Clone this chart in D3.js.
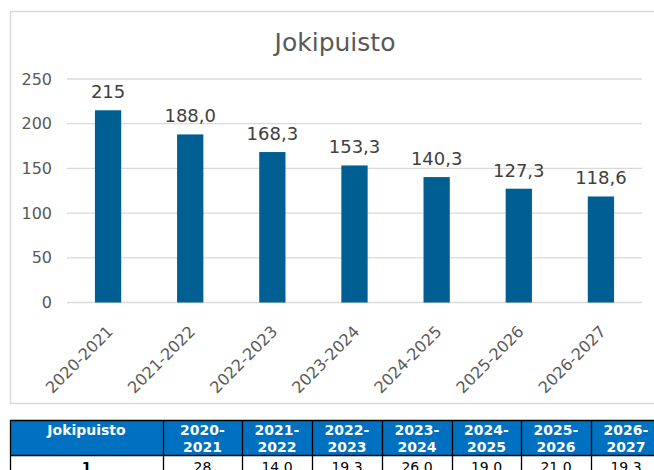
<!DOCTYPE html>
<html>
<head>
<meta charset="utf-8">
<script src="https://cdn.jsdelivr.net/npm/d3@7"></script>
<style>
  body { margin: 0; background: #fff; }
  svg { display: block; font-family: "DejaVu Sans", Verdana, sans-serif; }
</style>
</head>
<body>
<div class="chart"></div>
<script>
// chart data
var title = "Jokipuisto";
var years = ["2020-2021", "2021-2022", "2022-2023", "2023-2024", "2024-2025", "2025-2026", "2026-2027"];
var values = [215, 188.0, 168.3, 153.3, 140.3, 127.3, 118.6];
var valueLabels = ["215", "188,0", "168,3", "153,3", "140,3", "127,3", "118,6"];
var yTicks = [0, 50, 100, 150, 200, 250];

// table data
var tableHead = "Jokipuisto";
var rowName = "1";
var rowValues = ["28", "14.0", "19.3", "26.0", "19.0", "21.0", "19.3"];

var svgWidth = 654;
var svgHeight = 470;

var svg = d3.select(".chart")
  .append("svg")
  .attr("width", svgWidth)
  .attr("height", svgHeight);

// chart frame
svg.append("rect")
  .attr("x", 10.5)
  .attr("y", 11.5)
  .attr("width", 652)
  .attr("height", 392)
  .attr("fill", "none")
  .attr("stroke", "#d9d9d9")
  .attr("stroke-width", 1.5);

var plot = { left: 67, right: 642, top: 79, bottom: 302.5 };

var x = d3.scaleBand()
  .domain(years)
  .range([plot.left, plot.right])
  .paddingInner(0.68)
  .paddingOuter(0.34);

var y = d3.scaleLinear()
  .domain([0, 250])
  .range([plot.bottom, plot.top]);

// gridlines
svg.append("g")
  .selectAll("line")
  .data(yTicks)
  .enter()
  .append("line")
  .attr("x1", plot.left)
  .attr("x2", plot.right)
  .attr("y1", d => y(d))
  .attr("y2", d => y(d))
  .attr("stroke", "#d9d9d9")
  .attr("stroke-width", 1.3);

// y axis (labels only)
var leftAxis = d3.axisLeft(y).tickValues(yTicks).tickSize(0).tickPadding(15);
var yAxis = svg.append("g")
  .attr("transform", `translate(${plot.left}, 0)`)
  .call(leftAxis);
yAxis.select(".domain").remove();
yAxis.selectAll("text")
  .attr("fill", "#595959")
  .style("font-size", "16px")
  .style("font-family", "'DejaVu Sans', Verdana, sans-serif");

// x axis labels, rotated
var bottomAxis = d3.axisBottom(x).tickSize(0).tickPadding(0);
var xAxis = svg.append("g")
  .attr("transform", `translate(0, ${plot.bottom})`)
  .call(bottomAxis);
xAxis.select(".domain").remove();
xAxis.selectAll("text")
  .attr("fill", "#595959")
  .style("font-size", "16px")
  .style("font-family", "'DejaVu Sans', Verdana, sans-serif")
  .attr("text-anchor", "end")
  .attr("dy", null)
  .attr("y", 0)
  .attr("transform", "translate(6, 30) rotate(-45)");

// bars
svg.append("g")
  .selectAll("rect")
  .data(values)
  .enter()
  .append("rect")
  .attr("x", (d, i) => x(years[i]))
  .attr("y", d => y(d))
  .attr("width", x.bandwidth())
  .attr("height", d => y(0) - y(d))
  .attr("fill", "#005f92");

// data labels
svg.append("g")
  .selectAll("text")
  .data(values)
  .enter()
  .append("text")
  .attr("x", (d, i) => x(years[i]) + x.bandwidth() / 2)
  .attr("y", d => y(d) - 12)
  .attr("text-anchor", "middle")
  .attr("fill", "#404040")
  .style("font-size", "18px")
  .text((d, i) => valueLabels[i]);

// title
svg.append("text")
  .attr("x", 335)
  .attr("y", 51)
  .attr("text-anchor", "middle")
  .attr("fill", "#595959")
  .style("font-size", "25px")
  .text(title);

// table below the chart
var colEdges = [10, 163, 242, 312, 382, 452, 521, 591, 661];
var tableTop = 420;
var headBottom = 455;
var rowBottom = 490;

var table = svg.append("g");

table.append("rect")
  .attr("x", colEdges[0])
  .attr("y", tableTop)
  .attr("width", colEdges[colEdges.length - 1] - colEdges[0])
  .attr("height", headBottom - tableTop)
  .attr("fill", "#0070c0");

// grid lines of table
table.selectAll(".vline")
  .data(colEdges)
  .enter()
  .append("line")
  .attr("x1", d => d + 0.5)
  .attr("x2", d => d + 0.5)
  .attr("y1", tableTop)
  .attr("y2", rowBottom)
  .attr("stroke", "#000")
  .attr("stroke-width", 1.3);

table.selectAll(".hline")
  .data([tableTop, headBottom])
  .enter()
  .append("line")
  .attr("x1", colEdges[0])
  .attr("x2", colEdges[colEdges.length - 1])
  .attr("y1", d => d + 0.5)
  .attr("y2", d => d + 0.5)
  .attr("stroke", "#000")
  .attr("stroke-width", 1.3);

var colCenter = i => (colEdges[i] + colEdges[i + 1]) / 2;

table.append("text")
  .attr("x", colCenter(0))
  .attr("y", 435)
  .attr("text-anchor", "middle")
  .attr("fill", "#fff")
  .style("font-size", "14px")
  .style("font-weight", "bold")
  .text(tableHead);

var heads = table.selectAll(".head")
  .data(years)
  .enter()
  .append("text")
  .attr("text-anchor", "middle")
  .attr("fill", "#fff")
  .style("font-size", "14px")
  .style("font-weight", "bold");
heads.append("tspan")
  .attr("x", (d, i) => colCenter(i + 1))
  .attr("y", 435)
  .text(d => d.split("-")[0] + "-");
heads.append("tspan")
  .attr("x", (d, i) => colCenter(i + 1))
  .attr("y", 452)
  .text(d => d.split("-")[1]);

// first data row, cut by the bottom edge as in the reference
table.append("text")
  .attr("x", colCenter(0))
  .attr("y", 472)
  .attr("text-anchor", "middle")
  .attr("fill", "#000")
  .style("font-size", "14px")
  .style("font-weight", "bold")
  .text(rowName);

table.selectAll(".cell")
  .data(rowValues)
  .enter()
  .append("text")
  .attr("x", (d, i) => colCenter(i + 1))
  .attr("y", 472)
  .attr("text-anchor", "middle")
  .attr("fill", "#000")
  .style("font-size", "14px")
  .text(d => d);
</script>
</body>
</html>
